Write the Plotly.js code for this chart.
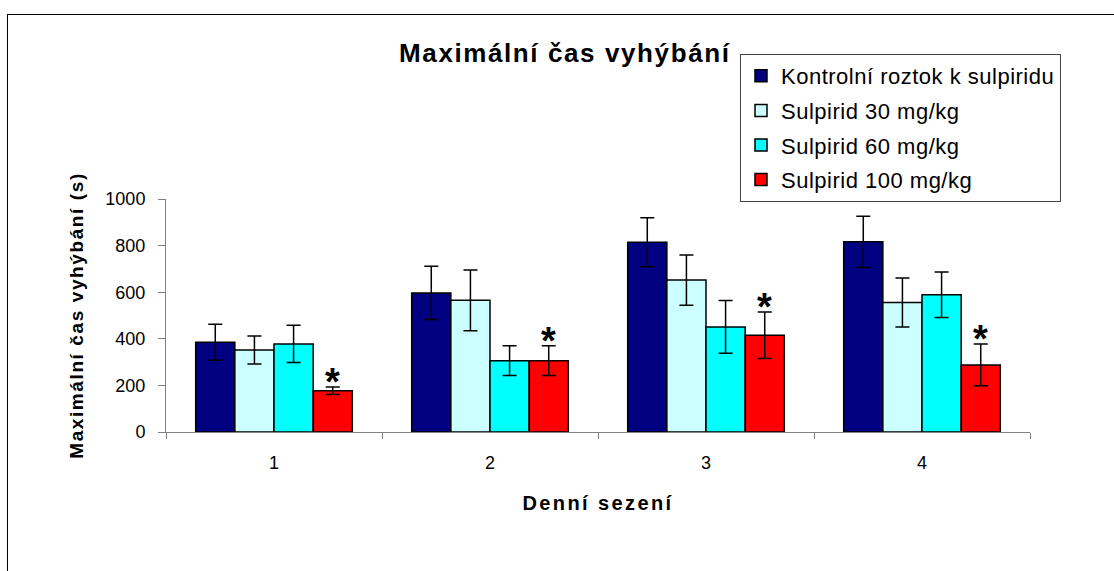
<!DOCTYPE html>
<html>
<head>
<meta charset="utf-8">
<script src="https://cdn.plot.ly/plotly-3.0.1.min.js"></script>
<style>
  html, body { margin: 0; padding: 0; overflow: hidden; background: #fff; }
  #chart { width: 1114px; height: 571px; }
  #frame { position: absolute; left: 7px; top: 14px; width: 1200px; height: 700px;
           border-left: 1.5px solid #000; border-top: 1.5px solid #000; pointer-events: none; }
  .gtitle { letter-spacing: 1.6px; }
  .ytitle { letter-spacing: 1.6px; }
  .xtitle { letter-spacing: 2.4px; }
  .legendtext { letter-spacing: 0.5px; }
</style>
</head>
<body>
<div id="chart"></div>
<div id="frame"></div>
<script>
const sessions = ['1', '2', '3', '4'];
const seriesNames = ['Kontrolní roztok k sulpiridu', 'Sulpirid 30 mg/kg', 'Sulpirid 60 mg/kg', 'Sulpirid 100 mg/kg'];
const control = [385, 597, 814, 816];
const controlErr = [77, 114, 105, 110];
const sulp30 = [352, 565, 652, 556];
const sulp30Err = [60, 130, 108, 105];
const sulp60 = [378, 306, 451, 589];
const sulp60Err = [80, 64, 113, 98];
const sulp100 = [177, 306, 415, 288];
const sulp100Err = [16, 64, 100, 90];
const significant = ['*', '*', '*', '*'];

const colors = ['#000080', '#CCFFFF', '#00FFFF', '#FF0000'];
const values = [control, sulp30, sulp60, sulp100];
const errors = [controlErr, sulp30Err, sulp60Err, sulp100Err];

const bargap = 0.275;
const traces = values.map((v, k) => ({
  type: 'bar',
  name: seriesNames[k],
  x: sessions,
  y: v,
  legendgroup: 'g' + k,
  marker: { color: colors[k], line: { color: '#000', width: 1.5 } },
  error_y: { type: 'data', array: errors[k], visible: true, color: '#000', thickness: 1.5, width: 7 },
  hoverinfo: 'x+y+name'
}));

const barW = (1 - bargap) / 4;
const redOffset = 1.5 * barW;
const annotations = sessions.map((s, i) => ({
  x: i + redOffset,
  y: sulp100[i] + sulp100Err[i],
  xref: 'x', yref: 'y',
  text: significant[i],
  showarrow: false,
  yanchor: 'bottom',
  yshift: -18,
  font: { family: 'Arial, Liberation Sans, sans-serif', size: 38, color: '#000', weight: 'bold' }
}));

const font = 'Arial, "Liberation Sans", sans-serif';
const layout = {
  width: 1114, height: 571,
  margin: { l: 166, r: 84, t: 199, b: 139, pad: 0 },
  paper_bgcolor: '#fff', plot_bgcolor: '#fff',
  font: { family: font, color: '#000' },
  barmode: 'group',
  bargap: bargap,
  bargroupgap: 0,
  title: {
    text: '<b>Maximální čas vyhýbání</b>',
    font: { family: font, size: 26, color: '#000' },
    xref: 'container', x: 0.507, xanchor: 'center',
    yref: 'container', y: 0.908, yanchor: 'middle'
  },
  xaxis: {
    type: 'category',
    range: [-0.5, 3.5],
    showline: true, linecolor: '#808080', linewidth: 1,
    ticks: 'outside', tickson: 'boundaries', ticklen: 6, tickcolor: '#808080', tickwidth: 1,
    tickfont: { family: font, size: 18, color: '#000' },
    ticklabelstandoff: 14,
    showgrid: false, zeroline: false,
    title: { text: '<b>Denní sezení</b>', font: { family: font, size: 20, color: '#000' }, standoff: 24 }
  },
  yaxis: {
    range: [0, 1000],
    tickvals: [0, 200, 400, 600, 800, 1000],
    showline: true, linecolor: '#808080', linewidth: 1,
    ticks: 'outside', ticklen: 7, tickcolor: '#808080', tickwidth: 1,
    tickfont: { family: font, size: 18, color: '#000' },
    ticklabelstandoff: 9,
    showgrid: false, zeroline: false,
    title: { text: '<b>Maximální čas vyhýbání (s)</b>', font: { family: font, size: 19, color: '#000' }, standoff: 16 }
  },
  showlegend: true,
  legend: {
    x: (740 - 166) / 864, xanchor: 'left',
    y: (432 - 54) / 233, yanchor: 'top',
    traceorder: 'grouped',
    tracegroupgap: 3,
    bordercolor: '#444', borderwidth: 1,
    bgcolor: '#fff',
    font: { family: font, size: 22, color: '#000' }
  },
  annotations: annotations
};

Plotly.newPlot('chart', traces, layout, { displayModeBar: false, staticPlot: true });
</script>
</body>
</html>
